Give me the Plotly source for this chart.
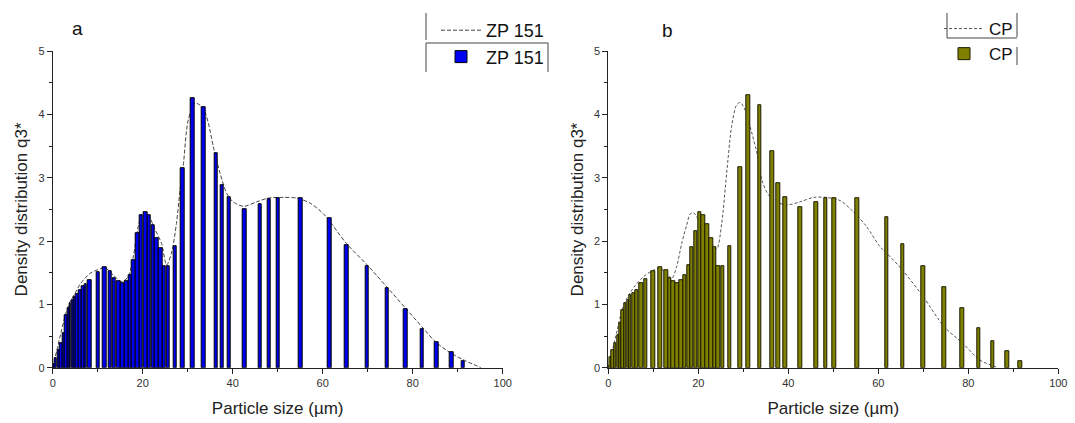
import numpy as np
import plotly.graph_objects as go

# ---------------- data ----------------
# Panel a (ZP 151): bar positions (µm) and density q3*
a_size = [0.15, 0.7, 1.3, 1.9, 2.5, 3.0, 3.5, 3.9, 4.4, 4.9, 5.5, 6.1, 6.7, 7.3, 8.2,
          10.1, 11.6, 12.8, 13.7, 14.6, 15.5, 16.4, 17.2, 18.0, 18.9, 19.7, 20.6, 21.4,
          22.3, 23.1, 24.0, 24.8, 25.7, 27.2, 28.9, 31.1, 33.6, 36.3, 37.7, 39.2, 42.6,
          46.1, 48.1, 50.1, 55.1, 61.5, 65.3, 69.9, 74.3, 78.4, 82.1, 85.3, 88.6, 91.2]
a_q3 = [0.05, 0.15, 0.28, 0.38, 0.54, 0.83, 0.94, 1.02, 1.07, 1.12, 1.16, 1.22, 1.28, 1.32, 1.39,
        1.51, 1.58, 1.53, 1.41, 1.37, 1.34, 1.37, 1.46, 1.70, 2.13, 2.41, 2.45, 2.41,
        2.25, 2.04, 1.89, 1.60, 1.60, 1.92, 3.15, 4.26, 4.12, 3.39, 2.89, 2.70, 2.51,
        2.59, 2.66, 2.68, 2.68, 2.36, 1.94, 1.60, 1.26, 0.93, 0.61, 0.40, 0.25, 0.10]
# Panel a fitted curve
a_curve_x = [0, 1, 2, 3, 4, 5, 6.1, 8.3, 10.5, 11.6, 13.5, 15.3, 16.8, 17.9, 19.0, 20.1,
             21.3, 22.5, 24.2, 25.3, 26.4, 27.5, 28.3, 29.0, 30.1, 31.6, 32.7, 33.5, 34.6,
             35.7, 37.2, 38.7, 40.1, 42.4, 45.3, 47.9, 51.3, 54.2, 57.2, 60.3, 65.3, 69.8,
             74.2, 78.3, 82.0, 85.2, 88.5, 91.1, 95.2]
a_curve_y = [0, 0.3, 0.6, 0.88, 1.06, 1.18, 1.32, 1.49, 1.56, 1.58, 1.46, 1.36, 1.44, 1.75, 2.23, 2.46,
             2.41, 2.22, 1.96, 1.62, 1.81, 2.28, 2.81, 3.18, 3.91, 4.18, 4.15, 4.10, 3.86,
             3.49, 3.07, 2.75, 2.62, 2.55, 2.62, 2.68, 2.69, 2.68, 2.60, 2.42, 1.96, 1.63,
             1.28, 0.95, 0.65, 0.40, 0.23, 0.13, 0.0]

# Panel b (CP)
b_size = [0.0, 0.46, 0.97, 1.57, 2.16, 2.68, 3.2, 3.8, 4.4, 4.9, 5.6, 6.3, 7.3, 8.3,
          10.0, 11.6, 12.9, 13.7, 14.5, 15.3, 16.2, 17.0, 17.9, 18.6, 19.4, 20.3, 21.1,
          22.0, 22.9, 23.7, 24.5, 25.4, 27.0, 29.3, 31.1, 33.7, 36.4, 37.8, 39.3, 42.7,
          46.2, 48.3, 50.2, 55.3, 61.9, 65.4, 70.0, 74.6, 78.7, 82.3, 85.4, 88.7, 91.5]
b_q3 = [0.03, 0.17, 0.28, 0.39, 0.52, 0.70, 0.91, 1.02, 1.07, 1.15, 1.18, 1.23, 1.33, 1.40,
        1.52, 1.58, 1.54, 1.41, 1.37, 1.34, 1.38, 1.46, 1.62, 1.90, 2.16, 2.46, 2.41,
        2.26, 2.04, 1.90, 1.60, 1.60, 1.92, 3.17, 4.30, 4.14, 3.42, 2.91, 2.70, 2.53,
        2.61, 2.68, 2.68, 2.68, 2.37, 1.95, 1.61, 1.27, 0.94, 0.62, 0.42, 0.26, 0.11]
b_curve_x = [0, 1, 2, 3, 4, 5, 6, 8, 10, 11.3, 12.6, 14.1, 15.2, 16.3, 17.4, 18.2, 18.9,
             19.6, 21.0, 22.5, 24.1, 25.2, 26.3, 27.4, 28.5, 29.3, 30.4, 31.5, 33.3, 34.1,
             35.6, 37.4, 39.6, 42.6, 45.6, 48.5, 51.5, 54.5, 57.4, 60.4, 62.0, 65.4, 70.0,
             74.6, 78.7, 82.6, 86.6]
b_curve_y = [0, 0.3, 0.6, 0.9, 1.08, 1.2, 1.3, 1.45, 1.54, 1.57, 1.52, 1.41, 1.60, 1.96, 2.25, 2.43, 2.45,
             2.39, 2.20, 2.02, 1.88, 2.28, 3.07, 3.81, 4.15, 4.19, 4.07, 3.81, 3.31, 2.97,
             2.73, 2.62, 2.57, 2.62, 2.69, 2.69, 2.64, 2.46, 2.23, 1.91, 1.80, 1.54, 1.12,
             0.65, 0.39, 0.12, 0.0]

names = ["ZP 151", "CP"]
x_title = "Particle size (µm)"
y_title = "Density distribution q3*"

# ---------------- style ----------------
FONT = "Arial, Liberation Sans, sans-serif"
W, H = 1075, 423


def widths(xs):
    xs = np.asarray(xs, dtype=float)
    d = np.diff(xs)
    left = np.concatenate([[d[0]], d])
    right = np.concatenate([d, [d[-1]]])
    return np.minimum(np.minimum(left, right), 0.8)


def px_x(p):
    return p / W


def px_y(p):
    return 1 - p / H


fig = go.Figure()

# base lines (drawn beneath bars)
fig.add_trace(go.Scatter(x=a_curve_x, y=a_curve_y, mode="lines", name=names[0],
                         line=dict(color="#444444", width=1, dash="4px,2px", shape="spline",
                                   smoothing=0.8),
                         xaxis="x", yaxis="y", legend="legend", hoverinfo="skip"))
fig.add_trace(go.Scatter(x=b_curve_x, y=b_curve_y, mode="lines", name=names[1],
                         line=dict(color="#555555", width=1, dash="3px,2px", shape="spline",
                                   smoothing=0.8),
                         xaxis="x2", yaxis="y2", legend="legend2", hoverinfo="skip"))
# bars on overlaying axes so that they are drawn above the curves
fig.add_trace(go.Bar(x=a_size, y=a_q3, width=widths(a_size), name=names[0],
                     marker=dict(color="#0000F0", line=dict(color="#000000", width=1.0)),
                     xaxis="x3", yaxis="y3", legend="legend"))
fig.add_trace(go.Bar(x=b_size, y=b_q3, width=widths(b_size), name=names[1],
                     marker=dict(color="#808000", line=dict(color="#1a1a00", width=1.0)),
                     xaxis="x4", yaxis="y4", legend="legend2"))

dom_a = [px_x(52.7), px_x(502.7)]
dom_b = [px_x(608.3), px_x(1058.3)]
dom_y = [px_y(367.7), px_y(51.2)]

xcommon = dict(range=[0, 100], tickmode="linear", tick0=0, dtick=20, ticks="outside",
               ticklen=5, tickwidth=1, tickcolor="#222", showline=True, linecolor="#222",
               linewidth=1, showgrid=False, zeroline=False, automargin=False,
               tickfont=dict(family=FONT, size=11, color="#333"),
               minor=dict(dtick=10, ticks="outside", ticklen=3, tickcolor="#222"),
               title=dict(text=x_title, font=dict(family=FONT, size=17, color="#222"), standoff=14))
ycommon = dict(range=[0, 5], tickmode="linear", tick0=0, dtick=1, ticks="outside",
               ticklen=5, tickwidth=1, tickcolor="#222", showline=True, linecolor="#222",
               linewidth=1, showgrid=False, zeroline=False, automargin=False,
               tickfont=dict(family=FONT, size=11, color="#333"),
               minor=dict(dtick=0.5, ticks="outside", ticklen=3, tickcolor="#222"),
               title=dict(text=y_title, font=dict(family=FONT, size=17, color="#222"), standoff=6))
hidden = dict(range=[0, 100], visible=False, showgrid=False, zeroline=False)
hiddeny = dict(range=[0, 5], visible=False, showgrid=False, zeroline=False)

fig.update_layout(
    width=W, height=H,
    margin=dict(l=0, r=0, t=0, b=0),
    paper_bgcolor="white", plot_bgcolor="rgba(0,0,0,0)",
    showlegend=True, bargap=0, barmode="overlay",
    font=dict(family=FONT, color="#222"),
    xaxis=dict(domain=dom_a, anchor="y", **xcommon),
    yaxis=dict(domain=dom_y, anchor="x", **ycommon),
    xaxis2=dict(domain=dom_b, anchor="y2", **xcommon),
    yaxis2=dict(domain=dom_y, anchor="x2", **ycommon),
    xaxis3=dict(overlaying="x", anchor="y3", **hidden),
    yaxis3=dict(overlaying="y", anchor="x3", **hiddeny),
    xaxis4=dict(overlaying="x2", anchor="y4", **hidden),
    yaxis4=dict(overlaying="y2", anchor="x4", **hiddeny),
    legend=dict(x=px_x(549), y=px_y(12), xanchor="right", yanchor="top",
                font=dict(family=FONT, size=18, color="#111"), bgcolor="rgba(0,0,0,0)",
                borderwidth=0, itemwidth=40, tracegroupgap=0),
    legend2=dict(x=px_x(1018), y=px_y(11), xanchor="right", yanchor="top",
                 font=dict(family=FONT, size=17, color="#111"), bgcolor="rgba(0,0,0,0)",
                 borderwidth=0, itemwidth=40, tracegroupgap=0),
    annotations=[
        dict(text="a", x=px_x(70), y=px_y(16), xref="paper", yref="paper", showarrow=False,
             font=dict(family=FONT, size=19, color="#111")),
        dict(text="b", x=px_x(667), y=px_y(18), xref="paper", yref="paper", showarrow=False,
             font=dict(family=FONT, size=19, color="#111")),
    ],
)

# legend frame fragments
frame = [
    (426, 13, 426, 40), (426, 43, 548, 43), (426, 43, 426, 72), (548, 43, 548, 72),
    (947, 13, 947, 38), (947, 38, 1017, 38), (1017, 13, 1017, 37), (1017, 47, 1017, 65),
]
for x0, y0, x1, y1 in frame:
    fig.add_shape(type="line", xref="paper", yref="paper", x0=px_x(x0), y0=px_y(y0),
                  x1=px_x(x1), y1=px_y(y1), line=dict(color="#444", width=1))

fig.write_html("out.html", config={"displayModeBar": False},
               post_script="document.body.style.margin='0';document.body.style.overflow='hidden';")
